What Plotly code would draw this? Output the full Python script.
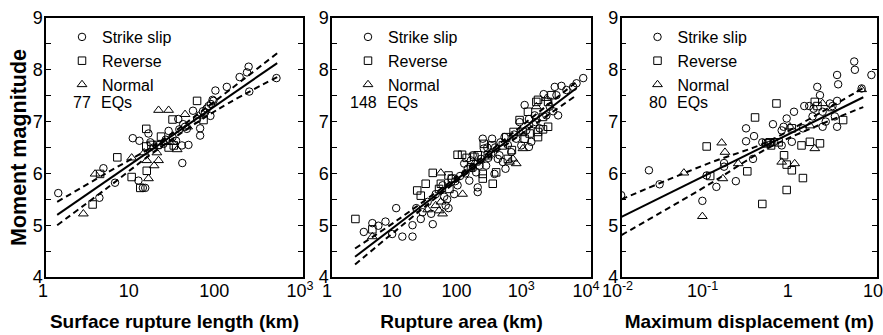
import plotly.graph_objects as go

# ---------------- data: Surface rupture length (km) vs Mw ----------------
srl_ss_x = [1.39, 4.2, 4.68, 6.4, 10.3, 12.3, 12.0, 14.4, 13.5, 15.7, 16.5, 18, 21, 23.5, 27, 25, 33, 35,
            38.6, 39, 44, 46, 40, 52, 58, 63, 63, 72, 79, 84, 90, 83, 95, 129, 182, 222, 232, 236, 490,
            30, 36, 75, 88, 68, 42]
srl_ss_y = [5.62, 5.53, 6.10, 5.82, 6.68, 6.63, 5.86, 5.72, 5.72, 6.77, 6.6, 6.5, 6.55, 6.57, 6.82, 6.65, 6.63, 7.05,
            6.54, 6.2, 6.86, 6.55, 6.95, 7.21, 7.05, 6.87, 6.73, 7.18, 7.3, 7.34, 7.4, 7.11, 7.6, 7.67, 7.86, 7.95, 8.06, 7.58, 7.84,
            6.7, 6.85, 7.25, 7.42, 7.2, 6.9]
srl_rev_x = [3.5, 4.28, 6.8, 10.0, 12.6, 14.8, 15, 14.8, 22, 27, 30, 31, 58, 69, 17, 20]
srl_rev_y = [5.4, 5.99, 6.31, 5.93, 5.72, 6.86, 6.05, 6.52, 6.71, 6.5, 7.04, 6.54, 7.4, 7.03, 6.55, 6.55]
srl_nor_x = [2.73, 3.74, 15, 15.7, 18.3, 20.6, 19.7, 20.6, 27, 34, 42, 60, 10, 14, 24, 30, 45]
srl_nor_y = [5.22, 5.99, 6.25, 5.9, 6.15, 6.25, 6.4, 7.22, 7.22, 6.46, 7.14, 7.11, 6.3, 6.4, 6.6, 6.6, 6.9]
srl_fit_x = [1.35, 500]
srl_fit_y = [5.2, 8.13]
srl_band_x = [1.35, 5, 20, 100, 500]
srl_up_y = [5.45, 6.0, 6.58, 7.43, 8.32]
srl_lo_y = [5.0, 5.70, 6.46, 7.23, 7.86]

# ---------------- data: Rupture area vs Mw ----------------
ra_ss_x = [3.1, 4.2, 5.2, 6.7, 8.5, 9.8, 12.2, 17.5, 17.5, 20, 23.5, 25, 34, 36, 30, 51, 54, 57, 63, 77, 87,
           110, 125, 149, 132, 168, 200, 178, 178, 240, 213, 221, 297, 287, 323, 364, 386, 462, 435, 478, 586,
           700, 789, 838, 1000, 944, 1101, 1197, 1349, 1397, 1612, 1860, 2047, 2307, 2757, 2927, 3105, 3497,
           4180, 5305, 5980, 7586, 40, 70, 95, 115, 150, 260, 330, 520, 650, 1300, 60, 80, 190, 250, 400,
           1100, 2600, 140]
ra_ss_y = [4.87, 5.04, 4.99, 5.07, 4.83, 5.33, 4.78, 4.78, 5.0, 5.33, 5.12, 5.25, 5.22, 5.02, 5.45, 5.77, 5.55,
           5.38, 5.33, 5.6, 5.77, 6.19, 6.09, 6.35, 5.86, 6.02, 6.28, 5.73, 5.64, 6.15, 6.67, 6.48, 6.67, 6.38,
           5.99, 6.28, 6.35, 6.7, 6.22, 6.09, 6.41, 6.67, 6.99, 6.54, 6.83, 7.32, 6.51, 6.61, 7.12, 6.99, 6.87,
           7.53, 7.12, 7.29, 7.67, 7.51, 7.12, 7.69, 7.61, 7.67, 7.74, 7.84, 5.6, 5.9, 5.95, 6.0, 6.1, 6.3, 6.5,
           6.55, 6.75, 6.95, 5.5, 5.85, 6.15, 6.5, 6.6, 7.05, 7.2, 6.25]
ra_rev_x = [2.3, 4.2, 20.7, 28, 23.5, 36, 63, 48, 71, 65, 87, 102, 140, 158, 178, 213, 255, 213, 221, 297, 304,
            343, 435, 490, 520, 637, 789, 889, 944, 1062, 1128, 1520, 1432, 1520, 1520, 1816, 2174, 2174, 2448,
            1816, 45, 120, 600]
ra_rev_y = [5.12, 4.92, 5.67, 5.8, 5.57, 6.01, 5.96, 5.8, 5.9, 5.7, 6.36, 6.36, 6.12, 6.32, 6.35, 5.99, 6.35,
            5.9, 6.57, 6.54, 5.8, 6.02, 6.54, 6.7, 6.28, 6.8, 7.03, 6.8, 6.67, 7.19, 6.77, 7.42, 7.38, 6.8, 6.7,
            7.09, 7.38, 6.9, 7.51, 6.85, 5.7, 6.3, 6.45]
ra_nor_x = [4.2, 40, 48, 45, 48, 51, 104, 552, 700, 1432, 889, 622, 2047, 30, 160]
ra_nor_y = [4.78, 5.38, 5.45, 5.28, 6.01, 5.22, 5.6, 6.22, 6.19, 7.29, 6.48, 6.28, 7.45, 5.3, 6.2]
ra_fit_x = [2.27, 6000]
ra_fit_y = [4.39, 7.65]
ra_band_x = [2.27, 10, 100, 1000, 6000]
ra_up_y = [4.55, 5.09, 6.0, 6.99, 7.77]
ra_lo_y = [4.24, 4.91, 5.92, 6.83, 7.51]

# ---------------- data: Maximum displacement (m) vs Mw ----------------
md_ss_x = [0.0099, 0.021, 0.028, 0.089, 0.1, 0.13, 0.16, 0.16, 0.22, 0.35, 0.29, 0.29, 0.36, 0.45, 0.52, 0.62,
           0.76, 0.76, 0.87, 0.8, 1.06, 1.0, 1.35, 1.75, 1.6, 1.99, 2.14, 1.8, 2.3, 2.3, 2.8, 3.0, 3.4, 3.5, 3.4,
           3.2, 3.4, 5.4, 5.5, 6.6, 8.6, 1.4, 2.5, 0.6]
md_ss_y = [5.58, 6.06, 5.79, 5.47, 5.96, 5.74, 6.13, 6.2, 5.85, 6.28, 6.62, 6.87, 6.72, 6.6, 6.6, 6.61,
           6.83, 6.54, 7.06, 6.9, 7.19, 6.61, 6.87, 7.1, 7.3, 7.67, 7.51, 7.25, 7.19, 6.9, 7.35, 7.3, 7.9, 7.72, 6.9,
           7.1, 7.4, 8.16, 8.0, 7.64, 7.9, 7.3, 7.0, 6.95]
md_rev_x = [0.1, 0.37, 0.3, 0.45, 0.5, 0.57, 0.66, 0.7, 0.81, 0.87, 0.87, 1.0, 1.0, 1.35, 1.3, 1.63, 1.86,
            2.14, 4.0, 0.11, 2.0, 0.55]
md_rev_y = [6.52, 7.08, 6.04, 5.41, 6.58, 6.54, 7.35, 6.6, 6.35, 6.17, 5.68, 6.87, 6.06, 5.91, 6.54, 6.61, 7.38,
            6.58, 7.03, 5.95, 7.3, 6.6]
md_nor_x = [0.054, 0.089, 0.15, 0.164, 0.155, 0.235, 0.76, 1.08, 1.63, 1.86, 2.3, 3.0, 6.6, 0.95]
md_nor_y = [6.01, 5.17, 6.59, 6.41, 5.9, 6.19, 6.22, 6.19, 6.92, 6.48, 7.35, 7.25, 7.62, 6.9]
md_fit_x = [0.01, 6.9]
md_fit_y = [5.16, 7.47]
md_band_x = [0.01, 0.1, 0.5, 2, 6.9]
md_up_y = [5.5, 6.18, 6.6, 7.14, 7.65]
md_lo_y = [4.81, 5.76, 6.47, 6.92, 7.28]

counts = ["77", "148", "80"]
type_names = ["Strike slip", "Reverse", "Normal"]
x_titles = ["Surface rupture length (km)", "Rupture area (km)", "Maximum displacement (m)"]
y_title = "Moment magnitude"
x_tickvals = [[1, 10, 100, 1000], [1, 10, 100, 1000, 10000], [0.01, 0.1, 1, 10]]
x_ticktext = [["1", "10", "100", "10<sup>3</sup>"],
              ["1", "10", "100", "10<sup>3</sup>", "10<sup>4</sup>"],
              ["10<sup>-2</sup>", "10<sup>-1</sup>", "1", "10"]]
y_tickvals = [4, 5, 6, 7, 8, 9]

# ---------------- layout geometry (pixels) ----------------
W, H = 883, 335
FONT = "Liberation Sans, Arial, Helvetica, sans-serif"
panels_px = [(46, 303), (332, 591), (621.5, 877)]
x_ranges = [[0, 3], [0, 4], [-2, 1]]
label_shift = [-3, -5, -4]
plot_top, plot_bot = 18, 277

panels = [
    (srl_ss_x, srl_ss_y, srl_rev_x, srl_rev_y, srl_nor_x, srl_nor_y, srl_fit_x, srl_fit_y, srl_band_x, srl_up_y, srl_lo_y),
    (ra_ss_x, ra_ss_y, ra_rev_x, ra_rev_y, ra_nor_x, ra_nor_y, ra_fit_x, ra_fit_y, ra_band_x, ra_up_y, ra_lo_y),
    (md_ss_x, md_ss_y, md_rev_x, md_rev_y, md_nor_x, md_nor_y, md_fit_x, md_fit_y, md_band_x, md_up_y, md_lo_y),
]

symbols = ["circle-open", "square-open", "triangle-up-open"]
sizes = [7.5, 7.5, 8.5]

fig = go.Figure()
annotations = []
for i, p in enumerate(panels):
    ss_x, ss_y, rv_x, rv_y, nm_x, nm_y, fx, fy, bx, uy, ly = p
    ax = "" if i == 0 else str(i + 1)
    leg = "legend" if i == 0 else f"legend{i + 1}"
    for (xs, ys), name, sym, sz in zip([(ss_x, ss_y), (rv_x, rv_y), (nm_x, nm_y)], type_names, symbols, sizes):
        fig.add_trace(go.Scatter(x=xs, y=ys, mode="markers", name=name, legend=leg,
                                 xaxis="x" + ax, yaxis="y" + ax,
                                 marker=dict(symbol=sym, size=sz, color="black", line=dict(width=1, color="black"))))
    fig.add_trace(go.Scatter(x=fx, y=fy, mode="lines", showlegend=False, xaxis="x" + ax, yaxis="y" + ax,
                             line=dict(color="black", width=2)))
    for yy in (uy, ly):
        fig.add_trace(go.Scatter(x=bx, y=yy, mode="lines", showlegend=False, xaxis="x" + ax, yaxis="y" + ax,
                                 line=dict(color="black", width=2, dash="6px,4px"), line_shape="spline"))

    x0, x1 = panels_px[i]
    xd = [x0 / W, x1 / W]
    yd = [(H - plot_bot) / H, (H - plot_top) / H]
    fig.layout["xaxis" + ax] = dict(
        type="log", range=x_ranges[i], domain=xd, anchor="y" + ax, automargin=False,
        showline=True, linecolor="black", linewidth=1.5, mirror=True, ticks="", ticklen=0,
        showgrid=False, zeroline=False, ticklabelstandoff=-3, ticklabelshift=label_shift[i],
        ticklabeloverflow="allow",
        tickvals=x_tickvals[i], ticktext=x_ticktext[i], tickfont=dict(size=18, color="black", family=FONT),
        title=dict(text=f"<b>{x_titles[i]}</b>", font=dict(size=19, color="black", family=FONT), standoff=14),
    )
    ydict = dict(
        range=[4, 9], domain=yd, anchor="x" + ax, automargin=False,
        showline=True, linecolor="black", linewidth=1.5, mirror="ticks", showgrid=False, zeroline=False,
        tickvals=y_tickvals, ticks="inside", ticklen=5, tickwidth=1, tickcolor="black",
        minor=dict(dtick=0.5, ticks="inside", ticklen=5, tickwidth=1, tickcolor="black", showgrid=False),
        tickfont=dict(size=18, color="black", family=FONT), ticklabelstandoff=-2, ticklabeloverflow="allow",
    )
    if i == 0:
        ydict["title"] = dict(text=f"<b>{y_title}</b>", font=dict(size=21.5, color="black", family=FONT), standoff=0)
    fig.layout["yaxis" + ax] = ydict

    fig.layout[leg] = dict(x=(x0 + 16) / W, y=1 - 20 / H, xanchor="left", yanchor="top",
                           bgcolor="rgba(0,0,0,0)", borderwidth=0, font=dict(size=16, color="black", family=FONT),
                           itemclick=False, itemdoubleclick=False)
    annotations.append(dict(x=(x0 + 47) / W, y=1 - 102 / H, xref="paper", yref="paper", text=counts[i],
                            showarrow=False, xanchor="right", yanchor="middle",
                            font=dict(size=16, color="black", family=FONT)))
    annotations.append(dict(x=(x0 + 53) / W, y=1 - 102 / H, xref="paper", yref="paper", text="EQs",
                            showarrow=False, xanchor="left", yanchor="middle",
                            font=dict(size=16, color="black", family=FONT)))

fig.update_layout(
    template="none",
    width=W, height=H, margin=dict(l=0, r=0, t=0, b=0, autoexpand=False),
    plot_bgcolor="white", paper_bgcolor="white",
    font=dict(family=FONT, color="black"),
    annotations=annotations,
)
fig.write_html("out.html", config={"displayModeBar": False},
               post_script="document.body.style.margin='0';document.body.style.overflow='hidden';")
